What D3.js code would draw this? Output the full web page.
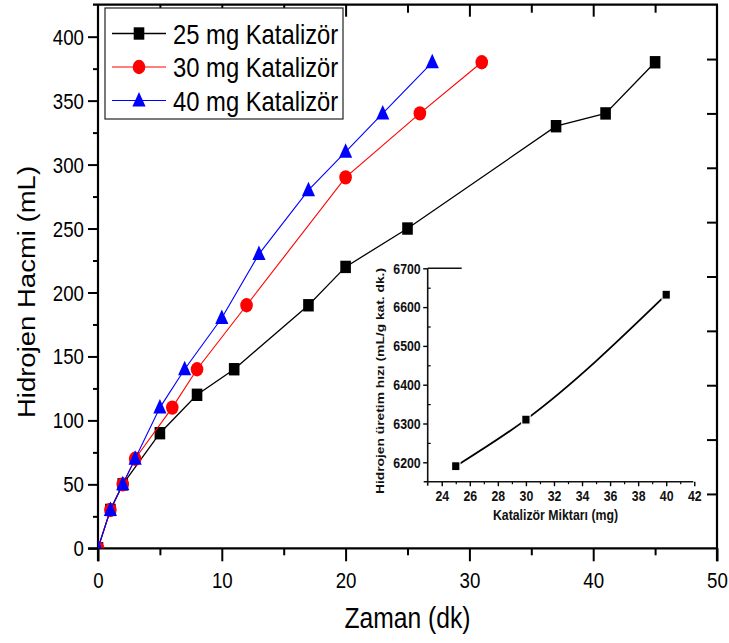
<!DOCTYPE html>
<html>
<head>
<meta charset="utf-8">
<script src="https://cdn.jsdelivr.net/npm/d3@7"></script>
<style>
  html, body { margin: 0; padding: 0; background: #fff; }
  svg { display: block; }
</style>
</head>
<body>
<svg id="chart" width="729" height="643"></svg>
<script>
// Hydrogen volume over time for three catalyst loadings
const time25 = [0, 1, 2, 5, 8, 11, 17, 20, 25, 37, 41, 45];
const vol25  = [0, 30, 50, 90, 120, 140, 190, 220, 250, 330, 340, 380];
const time30 = [0, 1, 2, 3, 6, 8, 12, 20, 26, 31];
const vol30  = [0, 30, 50, 70, 110, 140, 190, 290, 340, 380];
const time40 = [0, 1, 2, 3, 5, 7, 10, 13, 17, 20, 23, 27];
const vol40  = [0, 30, 50, 70, 110, 140, 180, 230, 280, 310, 340, 380];
const seriesNames = ["25 mg Katalizör", "30 mg Katalizör", "40 mg Katalizör"];

// Inset: production rate versus catalyst amount
const loading = [25, 30, 40];
const rate    = [6190, 6310, 6632];

const xTicks = [0, 10, 20, 30, 40, 50];
const yTicks = [0, 50, 100, 150, 200, 250, 300, 350, 400];
const insetXTicks = [24, 26, 28, 30, 32, 34, 36, 38, 40, 42];
const insetYTicks = [6200, 6300, 6400, 6500, 6600, 6700];

const SX = 0.85;   // narrow lettering
const FONT = "'Liberation Sans', Arial, Helvetica, sans-serif";

const svg = d3.select("#chart");

// ---------- main plot ----------
const L = 98, R = 717, T = 4.7, B = 548.3;
const x = d3.scaleLinear().domain([0, 50]).range([L, R]);
const y = d3.scaleLinear().domain([0, 425]).range([B, T]);

function styleAxis(g, width) {
  g.select(".domain").remove();
  g.selectAll("line").attr("stroke", "#000").attr("stroke-width", width);
}

// bottom axis
const gxMinor = svg.append("g").attr("transform", `translate(0,${B})`)
  .call(d3.axisBottom(x).tickValues(d3.range(5, 50, 10)).tickSize(7).tickFormat(""));
styleAxis(gxMinor, 2);
const gx = svg.append("g").attr("transform", `translate(0,${B})`)
  .call(d3.axisBottom(x).tickValues(xTicks).tickSize(13).tickFormat(d3.format("d")));
styleAxis(gx, 2);
gx.selectAll("text")
  .attr("x", null).attr("y", null).attr("dy", null)
  .attr("transform", `translate(0,40) scale(${SX},1)`)
  .attr("font-family", FONT).attr("font-size", 22).attr("fill", "#000");

// left axis
const gyMinor = svg.append("g").attr("transform", `translate(${L},0)`)
  .call(d3.axisLeft(y).tickValues(d3.range(25, 425, 50)).tickSize(5).tickFormat(""));
styleAxis(gyMinor, 2);
const gy = svg.append("g").attr("transform", `translate(${L},0)`)
  .call(d3.axisLeft(y).tickValues(yTicks).tickSize(10).tickFormat(d3.format("d")));
styleAxis(gy, 2);
gy.selectAll("text")
  .attr("x", null).attr("dy", null)
  .attr("dominant-baseline", "central")
  .attr("transform", `translate(-14,0) scale(${SX},1)`)
  .attr("font-family", FONT).attr("font-size", 22).attr("fill", "#000");

// top axis, ticks pointing into the plot
const gtMinor = svg.append("g").attr("transform", `translate(0,${T})`)
  .call(d3.axisBottom(x).tickValues(d3.range(5, 50, 10)).tickSize(8).tickFormat(""));
styleAxis(gtMinor, 2);
const gtMajor = svg.append("g").attr("transform", `translate(0,${T})`)
  .call(d3.axisBottom(x).tickValues(d3.range(10, 50, 10)).tickSize(12).tickFormat(""));
styleAxis(gtMajor, 2);

// right axis, ten even divisions with inward ticks
const yRight = d3.scaleLinear().domain([0, 10]).range([B, T]);
const gr = svg.append("g").attr("transform", `translate(${R},0)`)
  .call(d3.axisLeft(yRight).tickValues(d3.range(1, 10)).tickSize(10).tickFormat(""));
styleAxis(gr, 2);

// frame lines
svg.append("line").attr("x1", L).attr("x2", L).attr("y1", T).attr("y2", B + 13)
  .attr("stroke", "#000").attr("stroke-width", 2.2);
svg.append("line").attr("x1", L - 5).attr("x2", R + 1).attr("y1", T).attr("y2", T)
  .attr("stroke", "#000").attr("stroke-width", 2.2);
svg.append("line").attr("x1", R).attr("x2", R).attr("y1", T).attr("y2", B + 13)
  .attr("stroke", "#000").attr("stroke-width", 2.2);
svg.append("line").attr("x1", L - 10).attr("x2", R).attr("y1", B).attr("y2", B)
  .attr("stroke", "#000").attr("stroke-width", 2.2);

// axis titles
svg.append("text")
  .attr("transform", `translate(${(L + R) / 2},628) scale(${SX},1)`)
  .attr("text-anchor", "middle")
  .attr("font-family", FONT).attr("font-size", 29).attr("fill", "#000")
  .text("Zaman (dk)");
svg.append("text")
  .attr("transform", `translate(35,292) rotate(-90) scale(1,${SX})`)
  .attr("text-anchor", "middle")
  .attr("font-family", FONT).attr("font-size", 27.5).attr("fill", "#000")
  .text("Hidrojen Hacmi (mL)");

// ---------- data ----------
svg.append("clipPath").attr("id", "plotClip")
  .append("rect").attr("x", L).attr("y", T).attr("width", R - L).attr("height", B - T);
const plot = svg.append("g").attr("clip-path", "url(#plotClip)");

const series = [
  { t: time25, v: vol25, color: "#000000", shape: "square", width: 1.3 },
  { t: time30, v: vol30, color: "#ff0000", shape: "circle", width: 1.1 },
  { t: time40, v: vol40, color: "#0000ff", shape: "triangle", width: 1.1 }
];

function drawMarker(g, shape, cx, cy, color) {
  if (shape === "square") {
    g.append("rect").attr("x", cx - 5.3).attr("y", cy - 6.2)
      .attr("width", 10.6).attr("height", 12.4).attr("fill", color);
  } else if (shape === "circle") {
    g.append("ellipse").attr("cx", cx).attr("cy", cy)
      .attr("rx", 6.3).attr("ry", 7.2).attr("fill", color);
  } else {
    g.append("path")
      .attr("d", `M${cx},${cy - 8.5}L${cx + 6.6},${cy + 6}L${cx - 6.6},${cy + 6}Z`)
      .attr("fill", color);
  }
}

const line = d3.line().x(d => x(d[0])).y(d => y(d[1]));
series.forEach(s => {
  const pts = s.t.map((t, i) => [t, s.v[i]]);
  plot.append("path").datum(pts)
    .attr("d", line).attr("fill", "none")
    .attr("stroke", s.color).attr("stroke-width", s.width);
  const mg = plot.append("g");
  pts.forEach(p => drawMarker(mg, s.shape, x(p[0]), y(p[1]), s.color));
});

// ---------- legend ----------
const lg = svg.append("g");
lg.append("rect").attr("x", 105).attr("y", 8).attr("width", 238).attr("height", 111)
  .attr("fill", "#fff").attr("stroke", "#222").attr("stroke-width", 1.2);
series.forEach((s, i) => {
  const cy = 33.5 + i * 33.5;
  lg.append("line").attr("x1", 112).attr("x2", 166).attr("y1", cy).attr("y2", cy)
    .attr("stroke", s.color).attr("stroke-width", s.width);
  drawMarker(lg, s.shape, 139, cy, s.color);
  lg.append("text")
    .attr("transform", `translate(173,${cy + 10}) scale(${SX},1)`)
    .attr("font-family", FONT).attr("font-size", 28).attr("fill", "#000")
    .text(seriesNames[i]);
});

// ---------- inset ----------
const iL = 427.7, iR = 693.3, iT = 268.3, iB = 481.7;
const ix = d3.scaleLinear().domain([23, 42]).range([iL, iL + 19 * 14.03]);
const iy = d3.scaleLinear().domain([6150, 6700]).range([iB, iT]);

const ixMinor = svg.append("g").attr("transform", `translate(0,${iB})`)
  .call(d3.axisBottom(ix).tickValues(d3.range(25, 42, 2)).tickSize(2.5).tickFormat(""));
styleAxis(ixMinor, 1.2);
const ixg = svg.append("g").attr("transform", `translate(0,${iB})`)
  .call(d3.axisBottom(ix).tickValues(insetXTicks).tickSize(4.5).tickFormat(d3.format("d")));
styleAxis(ixg, 1.4);
ixg.selectAll("text")
  .attr("x", null).attr("y", null).attr("dy", null)
  .attr("transform", `translate(0,19) scale(${SX},1)`)
  .attr("font-family", FONT).attr("font-weight", "bold").attr("font-size", 14.5).attr("fill", "#111");

const iyMinor = svg.append("g").attr("transform", `translate(${iL},0)`)
  .call(d3.axisRight(iy).tickValues(d3.range(6250, 6700, 100)).tickSize(3).tickFormat(""));
styleAxis(iyMinor, 1.2);
const iyg = svg.append("g").attr("transform", `translate(${iL},0)`)
  .call(d3.axisLeft(iy).tickValues(insetYTicks).tickSize(4.5).tickFormat(d3.format("d")));
styleAxis(iyg, 1.4);
iyg.selectAll("text")
  .attr("x", null).attr("dy", null)
  .attr("dominant-baseline", "central")
  .attr("transform", `translate(-7,0) scale(${SX},1)`)
  .attr("font-family", FONT).attr("font-weight", "bold").attr("font-size", 14.5).attr("fill", "#111");

svg.append("line").attr("x1", iL).attr("x2", iL).attr("y1", iT).attr("y2", iB + 4)
  .attr("stroke", "#111").attr("stroke-width", 1.6);
svg.append("line").attr("x1", iL - 4).attr("x2", iR).attr("y1", iB).attr("y2", iB)
  .attr("stroke", "#111").attr("stroke-width", 1.6);
svg.append("line").attr("x1", iL).attr("x2", iL + 34).attr("y1", iT).attr("y2", iT)
  .attr("stroke", "#111").attr("stroke-width", 1.6);

// smooth trend through the three loadings
const ipts = loading.map((m, i) => [m, rate[i]]);
svg.append("path").datum(ipts)
  .attr("d", d3.line().x(d => ix(d[0])).y(d => iy(d[1])).curve(d3.curveMonotoneX))
  .attr("fill", "none").attr("stroke", "#000").attr("stroke-width", 1.8);
ipts.forEach(p => {
  svg.append("rect").attr("x", ix(p[0]) - 4.2).attr("y", iy(p[1]) - 4.5)
    .attr("width", 8.4).attr("height", 9).attr("fill", "#000")
    .attr("stroke", "#fff").attr("stroke-width", 1.2);
});

svg.append("text")
  .attr("transform", `translate(${(iL + iR) / 2 - 5},520) scale(${SX},1)`)
  .attr("text-anchor", "middle")
  .attr("font-family", FONT).attr("font-weight", "bold").attr("font-size", 14.5).attr("fill", "#111")
  .text("Katalizör Miktarı (mg)");
svg.append("text")
  .attr("transform", `translate(384,381) rotate(-90) scale(1,${SX})`)
  .attr("text-anchor", "middle")
  .attr("font-family", FONT).attr("font-weight", "bold").attr("font-size", 13.8).attr("fill", "#111")
  .text("Hidrojen üretim hızı (mL/g kat. dk.)");
</script>
</body>
</html>
